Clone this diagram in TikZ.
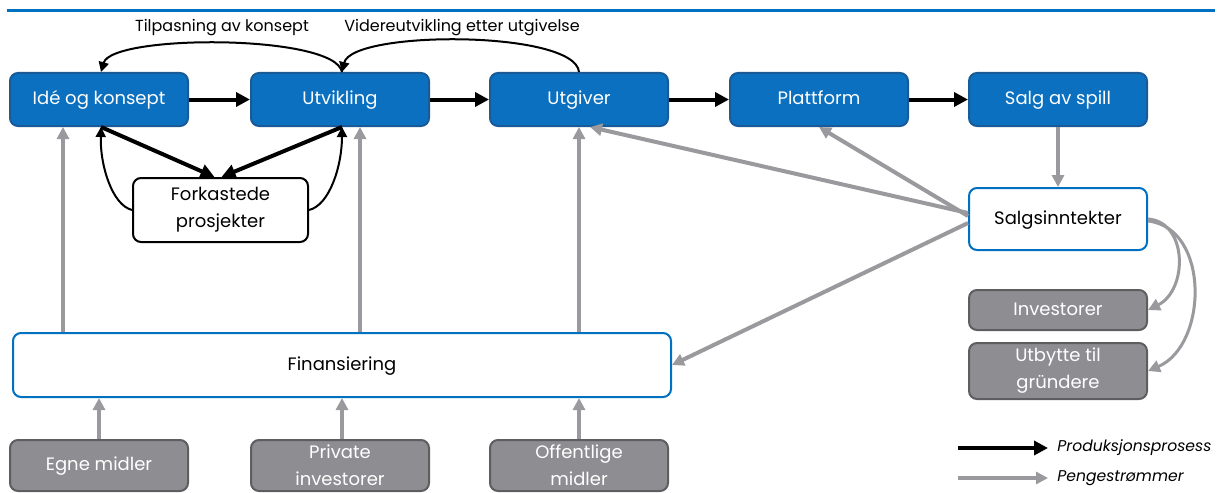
\documentclass[tikz,border=0pt]{standalone}
\usepackage{fontspec}
\setmainfont{Poppins}
\usetikzlibrary{arrows.meta,calc}
\definecolor{bfill}{HTML}{0B70BF}
\definecolor{bdraw}{HTML}{1A5A96}
\definecolor{gfill}{HTML}{8E8E92}
\definecolor{gdraw}{HTML}{5E5E61}
\definecolor{garr}{HTML}{9A9A9E}
\definecolor{topline}{HTML}{0070C0}
\begin{document}
\begin{tikzpicture}[x=0.5pt,y=-0.5pt,
  font=\fontsize{9}{13.5}\selectfont,
  box/.style={rectangle, rounded corners=4pt, inner sep=0pt, align=center, line width=1pt},
  oneline/.style={text height=6pt, text depth=1pt},
  bluebox/.style={box, oneline, fill=bfill, draw=bdraw, text=white, minimum width=89pt, minimum height=26.5pt},
  whitebox/.style={box, fill=white, draw=topline},
  graybox/.style={box, fill=gfill, draw=gdraw, text=white, minimum width=89pt},
  blk/.style={line width=2pt, -{Triangle[length=7pt,width=7pt]}},
  thinblk/.style={line width=1pt, -{Triangle[length=5pt,width=5pt]}},
  gry/.style={draw=garr, line width=2pt, -{Triangle[length=6pt,width=6pt]}, color=garr},
  lbl/.style={inner sep=0pt, font=\fontsize{8}{10}\selectfont},
  leg/.style={inner sep=0pt, anchor=west, font=\fontsize{7.8}{10}\selectfont\itshape}
]
\useasboundingbox (0,0) rectangle (1218,492);
\fill[white] (0,0) rectangle (1218,492);
\coordinate (tl1) at (7,10.5);
\coordinate (tl2) at (1215,10.5);
\draw[topline, line width=1.5pt] (tl1) -- (tl2);

% top row
\node[bluebox] (ide)  at (99,99.5)   {Idé og konsept};
\node[bluebox] (utv)  at (340,99.5)  {Utvikling};
\node[bluebox] (utg)  at (579,99.5)  {Utgiver};
\node[bluebox] (plat) at (819,99.5)  {Plattform};
\node[bluebox] (salg) at (1058,99.5) {Salg av spill};

\node[lbl] (l1) at (222,28) {Tilpasning av konsept};
\node[lbl] (l2) at (462,28) {Videreutvikling etter utgivelse};

\node[box, fill=white, draw=black, minimum width=87.5pt, minimum height=32pt] (fork) at (220.5,210) {Forkastede\\prosjekter};

\node[whitebox, oneline, minimum width=329pt, minimum height=32pt] (fin) at (342,365) {Finansiering};

\node[graybox, oneline, minimum height=25.5pt] (egne) at (99,465.5)  {Egne midler};
\node[graybox, minimum height=25.5pt] (priv) at (340,465.5) {Private\\investorer};
\node[graybox, minimum height=25.5pt] (off)  at (579,465.5) {Offentlige\\midler};

\node[whitebox, oneline, minimum width=89pt, minimum height=31pt] (sinn) at (1058,219) {Salgsinntekter};
\node[graybox, oneline, minimum height=20pt] (inv) at (1058,310) {Investorer};
\node[graybox, minimum height=28pt] (utb) at (1058,371) {Utbytte til\\gründere};

% production arrows
\draw[blk] (ide) -- (utv);
\draw[blk] (utv) -- (utg);
\draw[blk] (utg) -- (plat);
\draw[blk] (plat) -- (salg);

\draw[thinblk] ([xshift=1pt]utv.north) .. controls (335,34) and (112,34) .. ([xshift=1pt]ide.north);
\draw[thinblk] (utg.north) .. controls (575,30) and (352,30) .. ([xshift=1pt]utv.north);

\draw[blk] ([xshift=1pt]ide.south) -- ([xshift=-3pt]fork.north);
\draw[blk] ([xshift=1pt]utv.south) -- ([xshift=0.5pt]fork.north);
\draw[thinblk] (fork.west) .. controls (112,205) and (100,165) .. ([xshift=1pt]ide.south);
\draw[thinblk] (fork.east) .. controls (330,205) and (342,165) .. ([xshift=1pt]utv.south);

% money flows
\draw[gry] ($(ide.south |- fin.north)+(-36,0)$) -- ($(ide.south)+(-36,0)$);
\draw[gry] ($(utv.south |- fin.north)+(20,0)$) -- ($(utv.south)+(20,0)$);
\draw[gry] (utg.south |- fin.north) -- (utg.south);

\draw[gry] (egne.north) -- (egne.north |- fin.south);
\draw[gry] ($(priv.north)+(2,0)$) -- ($(priv.north |- fin.south)+(2,0)$);
\draw[gry] (off.north) -- (off.north |- fin.south);

\draw[gry] (salg.south) -- (sinn.north);
\draw[gry] ($(sinn.west)+(0,-6)$) -- ($(utg.south)+(11,0)$);
\draw[gry] ($(sinn.west)+(0,-3)$) -- (plat.south);
\draw[gry] ($(sinn.west)+(0,4)$) -- (fin.east);

\draw[gry, line width=1.5pt] ($(sinn.east)+(0,0)$) .. controls (1188,222) and (1188,290) .. (inv.east);
\draw[gry, line width=1.5pt] ($(sinn.east)+(0,2)$) .. controls (1210,228) and (1208,345) .. (utb.east);

% legend
\coordinate (la1) at (958,448);
\coordinate (la2) at (1048,448);
\coordinate (lb1) at (958,478);
\coordinate (lb2) at (1048,478);
\draw[blk] (la1) -- (la2);
\draw[gry] (lb1) -- (lb2);
\node[leg] (t1) at (1057,448) {Produksjonsprosess};
\node[leg] (t2) at (1057,478) {Pengestrømmer};
\end{tikzpicture}
\end{document}
